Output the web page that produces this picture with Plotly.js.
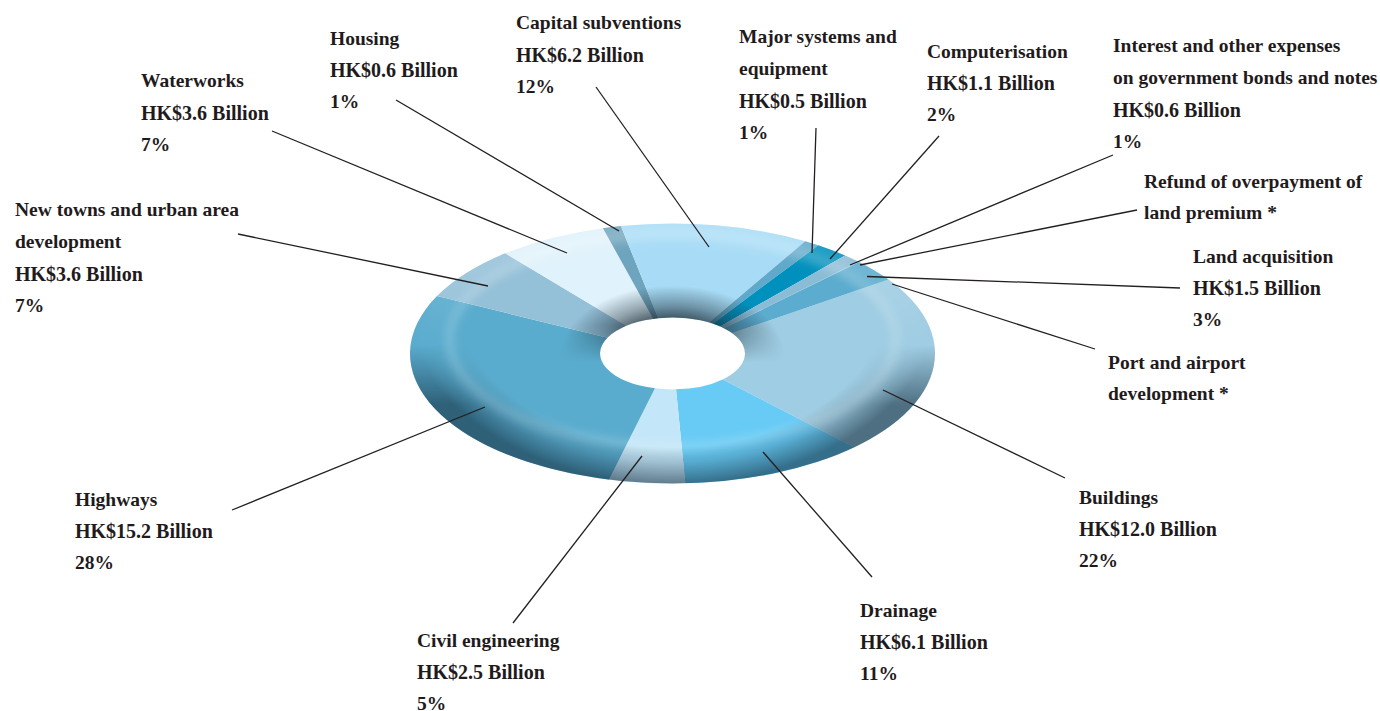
<!DOCTYPE html>
<html>
<head>
<meta charset="utf-8">
<script src="https://cdn.plot.ly/plotly-3.0.1.min.js"></script>
<style>html,body{margin:0;padding:0;background:#fff;overflow:hidden}#chart{width:1380px;height:711px}</style>
</head>
<body>
<div id="chart"></div>
<script>
// ---- chart values (clockwise, HK$ Billion) ----
var categories = ["Buildings","Drainage","Civil engineering","Highways","New towns and urban area development","Waterworks","Housing","Capital subventions","Major systems and equipment","Computerisation","Interest and other expenses on government bonds and notes","Refund of overpayment of land premium","Land acquisition","Port and airport development"];
var values = [12.0,6.1,2.5,15.2,3.6,3.6,0.6,6.2,0.5,1.1,0.6,0.02,1.5,0.02];
var colors = ["#9fcde3","#68cbf5","#c3e6f8","#5aacce","#94c0d8","#e0f2fb","#6ea4bd","#a8dcf6","#61a9ca","#0090bd","#8bbcd6","#8bbcd6","#5bacce","#5bacce"];

// ---- label text ----
var labelLines = [
 ["Housing","HK$0.6 Billion","1%"],
 ["Capital subventions","HK$6.2 Billion","12%"],
 ["Major systems and","equipment","HK$0.5 Billion","1%"],
 ["Computerisation","HK$1.1 Billion","2%"],
 ["Interest and other expenses","on government bonds and notes","HK$0.6 Billion","1%"],
 ["Refund of overpayment of","land premium *"],
 ["Land acquisition","HK$1.5 Billion","3%"],
 ["Port and airport","development *"],
 ["Buildings","HK$12.0 Billion","22%"],
 ["Drainage","HK$6.1 Billion","11%"],
 ["Civil engineering","HK$2.5 Billion","5%"],
 ["Highways","HK$15.2 Billion","28%"],
 ["New towns and urban area","development","HK$3.6 Billion","7%"],
 ["Waterworks","HK$3.6 Billion","7%"]
];
// ---- layout (pixels) ----
var labelX = [330,516,739,927,1113,1144,1193,1108,1079,860,417,75,15,141];
var labelY = [38,23,37,51,46,181,256,362,497,610,640,499,210,81];
var lineGap = 31.8;
var leaders = [
 [396,100,619,231],[596,87,709,247],[816,128,812,253],[939,136,830,259],
 [1113,155,850,265],[1137,210,860,265],[1180,288,867,276.5],[1095,349,892,284],
 [1065,478,883,390],[872,577,763,452],[513,623,642,456],[232,510,485,407],
 [238,234,488,286],[272,131,567,253]
];
var W=1380,H=711,cx=672.5,cy=353.5,rx=262.5,ry=130,holeRatio=0.276;
function px(x){return x/W;} function py(y){return 1-y/H;}

var annotations=[];
labelLines.forEach(function(lines,i){
  lines.forEach(function(t,j){
    annotations.push({xref:'paper',yref:'paper',x:px(labelX[i]),y:py(labelY[i]+j*lineGap),text:t,showarrow:false,
      xanchor:'left',yanchor:'middle',align:'left',xshift:-2,
      font:{family:'"Liberation Serif",serif',size:t.indexOf('HK$')===0?20:19.5,color:'#1f1b1c',weight:700}});
  });
});
var shapes=leaders.map(function(l){
  return {type:'line',xref:'paper',yref:'paper',x0:px(l[0]),y0:py(l[1]),x1:px(l[2]),y1:py(l[3]),layer:'above',line:{color:'#231f20',width:1.3}};
});

// Bevel shading overlay, laid over the pie (contains no data)
var hrx=rx*holeRatio, hry=ry*holeRatio;
var overlay='<svg xmlns="http://www.w3.org/2000/svg" width="'+W+'" height="'+H+'" viewBox="0 0 '+W+' '+H+'">'+
'<defs>'+
'<filter id="b" x="-20%" y="-20%" width="140%" height="140%"><feGaussianBlur stdDeviation="4"/></filter>'+
'<filter id="b2" x="-20%" y="-20%" width="140%" height="140%"><feGaussianBlur stdDeviation="7"/></filter>'+
'<mask id="donut"><ellipse cx="'+cx+'" cy="'+cy+'" rx="'+rx+'" ry="'+ry+'" fill="#fff"/><ellipse cx="'+cx+'" cy="'+cy+'" rx="'+hrx+'" ry="'+hry+'" fill="#000"/></mask>'+
'<radialGradient id="rim" gradientUnits="userSpaceOnUse" cx="0" cy="0" r="1" gradientTransform="translate('+cx+' 300) scale(266 184)">'+
'<stop offset="0.80" stop-color="#000" stop-opacity="0"/><stop offset="0.88" stop-color="#0a2030" stop-opacity="0.18"/><stop offset="1" stop-color="#0a2030" stop-opacity="0.54"/></radialGradient>'+
'<linearGradient id="rimV" gradientUnits="userSpaceOnUse" x1="0" y1="345" x2="0" y2="405"><stop offset="0" stop-color="#000"/><stop offset="1" stop-color="#fff"/></linearGradient>'+
'<mask id="rimM"><rect width="'+W+'" height="'+H+'" fill="url(#rimV)"/></mask>'+
'<linearGradient id="topV" gradientUnits="userSpaceOnUse" x1="0" y1="270" x2="0" y2="350"><stop offset="0" stop-color="#fff"/><stop offset="1" stop-color="#000"/></linearGradient>'+
'<mask id="topM"><rect width="'+W+'" height="'+H+'" fill="url(#topV)"/></mask>'+
'<radialGradient id="hs" gradientUnits="userSpaceOnUse" cx="0" cy="0" r="1" gradientTransform="translate('+cx+' '+(cy+2)+') scale(112 70)">'+
'<stop offset="0.5" stop-color="#1a2a35" stop-opacity="0.8"/><stop offset="0.72" stop-color="#1a2a35" stop-opacity="0.4"/><stop offset="1" stop-color="#1a2a35" stop-opacity="0"/></radialGradient>'+
'<linearGradient id="hsV" gradientUnits="userSpaceOnUse" x1="0" y1="325" x2="0" y2="362"><stop offset="0" stop-color="#fff"/><stop offset="1" stop-color="#000"/></linearGradient>'+
'<mask id="hsM"><rect width="'+W+'" height="'+H+'" fill="url(#hsV)"/></mask>'+
'</defs>'+
'<g mask="url(#donut)">'+
'<g mask="url(#rimM)"><rect width="'+W+'" height="'+H+'" fill="url(#rim)"/></g>'+
'<ellipse cx="'+cx+'" cy="340" rx="223" ry="106" fill="none" stroke="#fff" stroke-opacity="0.17" stroke-width="9" filter="url(#b)"/>'+
'<g mask="url(#topM)"><ellipse cx="'+cx+'" cy="340" rx="240" ry="118" fill="none" stroke="#fff" stroke-opacity="0.13" stroke-width="34" filter="url(#b2)"/></g>'+
'<g mask="url(#hsM)"><rect width="'+W+'" height="'+H+'" fill="url(#hs)"/></g>'+
'</g></svg>';

var data=[{type:'pie',labels:categories,values:values,sort:false,direction:'clockwise',rotation:55.5,hole:holeRatio,
  marker:{colors:colors,line:{width:0}},textinfo:'none',hoverinfo:'label+value',showlegend:false,
  domain:{x:[(cx-rx)/W,(cx+rx)/W],y:[1-(cy+rx)/H,1-(cy-rx)/H]}}];
var layout={width:W,height:H,margin:{l:0,r:0,t:0,b:0},paper_bgcolor:'#fff',plot_bgcolor:'#fff',showlegend:false,
  annotations:annotations,shapes:shapes,
  images:[{source:'data:image/svg+xml;charset=utf-8,'+encodeURIComponent(overlay),xref:'paper',yref:'paper',x:0,y:1,sizex:1,sizey:1,sizing:'stretch',xanchor:'left',yanchor:'top',layer:'above'}]};
Plotly.newPlot('chart',data,layout,{displayModeBar:false,responsive:false}).then(function(gd){
  // tilt the pie: flatten the circle into the ellipse of the reference
  var s=ry/rx;
  gd.querySelector('.pielayer').setAttribute('transform','translate(0 '+cy+') scale(1 '+s+') translate(0 '+(-cy)+')');
});
</script>
</body>
</html>
